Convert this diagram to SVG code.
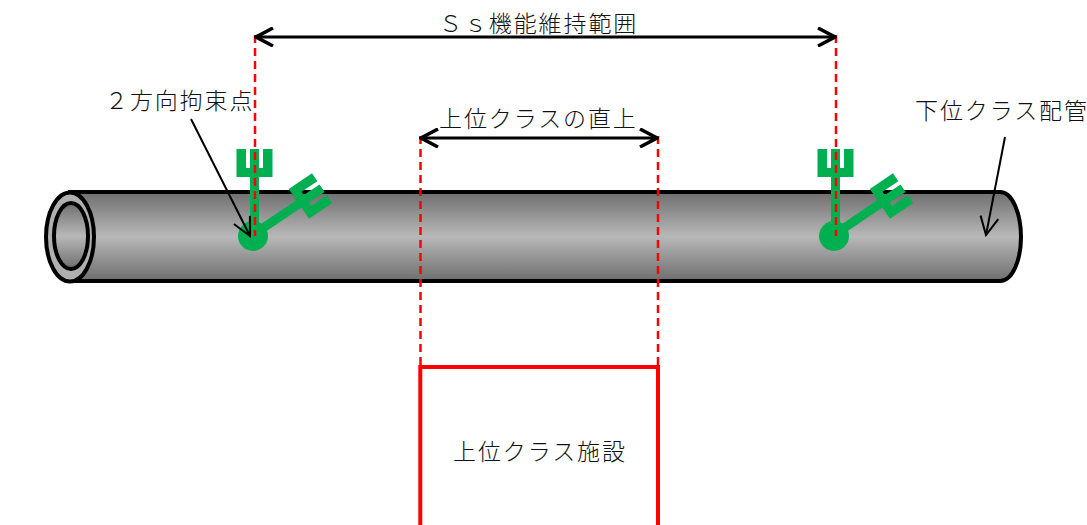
<svg xmlns="http://www.w3.org/2000/svg" width="1087" height="525" viewBox="0 0 1087 525">
<style>
text{font-family:"Noto Sans CJK JP","Liberation Sans",sans-serif;font-size:23px;fill:#111;font-weight:300;letter-spacing:1.900px}
.dash{stroke:#f00;stroke-width:2.500;stroke-dasharray:8 5;fill:none}
.line{stroke:#000;stroke-width:2;fill:none}
.dim{stroke:#000;stroke-width:3.200;fill:none}
.pipe{stroke:#000;stroke-width:4}
</style>
<defs>
<linearGradient id="g" x1="0" y1="0" x2="0" y2="1">
<stop offset="0" stop-color="#6e6e6e"/><stop offset=".5" stop-color="#b8b8b8"/><stop offset="1" stop-color="#6e6e6e"/>
</linearGradient>
<path id="fork" fill="#00b050" d="M-16.500-87H-7V-68H-3V-87H6V-68H10V-87H19.500V-59H6V-10H-3V-59H-16.500Z"/>
<marker id="a" viewBox="0 0 20 20" refX="18" refY="10" markerWidth="20" markerHeight="20" markerUnits="userSpaceOnUse" orient="auto-start-reverse"><path d="M1 1L18 10L1 19" fill="none" stroke="#000" stroke-width="3.500"/></marker>
<marker id="b" viewBox="0 0 22 22" refX="20" refY="11" markerWidth="22" markerHeight="22" markerUnits="userSpaceOnUse" orient="auto"><path d="M2 2L20 11L2 20" fill="none" stroke="#000" stroke-width="2"/></marker>
</defs>
<g id="pipe">
<path class="pipe" fill="url(#g)" d="M70 192H1000C1013 192 1021 215 1021 237C1021 259 1013 281 1000 281H70Z"/>
<ellipse class="pipe" cx="70" cy="237" rx="24" ry="44.500" fill="#b0b0b0"/>
<ellipse cx="71" cy="236" rx="17" ry="33" fill="url(#g)" stroke="#000" stroke-width="4"/>
</g>
<g id="restraint-left">
<circle cx="253" cy="236" r="15" fill="#00b050"/>
<use href="#fork" transform="translate(253 236)"/>
<use href="#fork" transform="translate(253 236) rotate(56) translate(-2.500 3)"/>
</g>
<g id="restraint-right">
<circle cx="834" cy="236" r="15" fill="#00b050"/>
<use href="#fork" transform="translate(834 236)"/>
<use href="#fork" transform="translate(834 236) rotate(56) translate(-2.500 3)"/>
</g>
<g id="facility">
<path d="M420.300 525V367H658V525" fill="none" stroke="#f00" stroke-width="4"/>
<text x="453" y="460">上位クラス施設</text>
</g>
<g id="connectors">
<path class="dash" d="M255 35V236"/>
<path class="dash" d="M836 35V236"/>
<path class="dash" d="M420.500 136V367"/>
<path class="dash" d="M658 136V367"/>
<path class="dim" marker-start="url(#a)" marker-end="url(#a)" d="M256 37H835"/>
<path class="dim" marker-start="url(#a)" marker-end="url(#a)" d="M421 138H657"/>
<path class="line" marker-end="url(#b)" d="M191 119L250 236"/>
<path class="line" marker-end="url(#b)" d="M1005 137L986 235"/>
</g>
<g id="labels">
<text x="439" y="32">Ｓｓ機能維持範囲</text>
<text x="439" y="127">上位クラスの直上</text>
<text x="105" y="109">２方向拘束点</text>
<text x="915" y="119">下位クラス配管</text>
</g>
</svg>
